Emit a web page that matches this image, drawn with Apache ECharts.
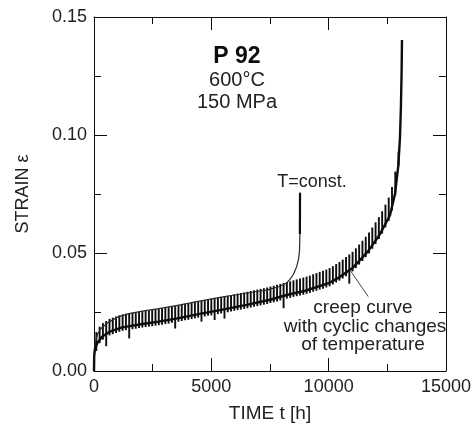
<!DOCTYPE html>
<html>
<head>
<meta charset="utf-8">
<script src="https://cdn.jsdelivr.net/npm/echarts@6/dist/echarts.min.js"></script>
<style>html,body{margin:0;padding:0;background:#fff;}#c{width:474px;height:429px;}</style>
</head>
<body>
<div id="c"></div>
<script>
// T = const. creep curve
const constT = [0, 15, 60, 150, 300, 600, 1000, 1500, 2000, 2756, 3500, 4500, 5369, 6000, 7000, 7358, 7900, 8200, 8350, 8500, 8636, 8720, 8760, 8775, 8780];
const constE = [0, 0.008, 0.012, 0.0155, 0.018, 0.0205, 0.0228, 0.0243, 0.0253, 0.0264, 0.0277, 0.0296, 0.0312, 0.0322, 0.0338, 0.0343, 0.0358, 0.0372, 0.0388, 0.041, 0.0442, 0.0475, 0.0513, 0.058, 0.0755];

// cyclic temperature creep curve (mean line)
const cycMidT = [0, 8, 40, 150, 341, 700, 1200, 2000, 2756, 3500, 4500, 5369, 6500, 7500, 8210, 9000, 10000, 10500, 11000, 11335, 11700, 12187, 12614, 12827, 12969, 13040, 13080, 13110, 13125];
const cycMidE = [0, 0.006, 0.0095, 0.012, 0.0145, 0.0168, 0.0185, 0.0198, 0.0209, 0.0222, 0.0242, 0.0258, 0.028, 0.0302, 0.0322, 0.034, 0.0372, 0.040, 0.0435, 0.047, 0.051, 0.058, 0.066, 0.075, 0.087, 0.099, 0.112, 0.127, 0.1403];

// temperature cycle spikes: time, lower end, upper end
const spikeT = [100, 240, 380, 520, 660, 800, 940, 1080, 1220, 1360, 1500, 1640, 1780, 1920, 2060, 2200, 2340, 2480, 2620, 2760, 2900, 3040, 3180, 3320, 3460, 3600, 3740, 3880, 4020, 4160, 4300, 4440, 4580, 4720, 4860, 5000, 5140, 5280, 5420, 5560, 5700, 5840, 5980, 6120, 6260, 6400, 6540, 6680, 6820, 6960, 7100, 7240, 7380, 7520, 7660, 7800, 7940, 8080, 8220, 8360, 8500, 8640, 8780, 8920, 9060, 9200, 9340, 9480, 9620, 9760, 9900, 10040, 10180, 10320, 10460, 10600, 10740, 10880, 11020, 11160, 11300, 11440, 11580, 11720, 11860, 12000, 12140, 12280, 12420, 12560, 12700, 12840, 12980];
const spikeLo = [0.0085, 0.0118, 0.0133, 0.0105, 0.0151, 0.0156, 0.0161, 0.0166, 0.017, 0.0173, 0.0138, 0.0177, 0.0179, 0.0182, 0.0184, 0.0186, 0.0188, 0.019, 0.0192, 0.0194, 0.0196, 0.0199, 0.0201, 0.0204, 0.018, 0.0209, 0.0212, 0.0215, 0.0217, 0.022, 0.0223, 0.0226, 0.0209, 0.0231, 0.0234, 0.0236, 0.0216, 0.0241, 0.0244, 0.0222, 0.0249, 0.0252, 0.0255, 0.0258, 0.026, 0.0263, 0.0266, 0.0269, 0.0272, 0.0275, 0.0278, 0.0281, 0.0284, 0.0288, 0.0291, 0.0295, 0.0299, 0.0266, 0.0307, 0.031, 0.0314, 0.0317, 0.032, 0.0323, 0.0327, 0.0331, 0.0336, 0.034, 0.0345, 0.0349, 0.0354, 0.0359, 0.0367, 0.0375, 0.0383, 0.0392, 0.0402, 0.037, 0.0422, 0.0436, 0.0451, 0.0466, 0.0482, 0.0498, 0.0518, 0.0538, 0.0559, 0.0582, 0.0609, 0.0636, 0.068, 0.0745, 0.087];
const spikeHi = [0.0165, 0.0188, 0.0203, 0.0212, 0.0221, 0.0226, 0.0231, 0.0236, 0.024, 0.0243, 0.0245, 0.0247, 0.0249, 0.0252, 0.0254, 0.0256, 0.0258, 0.026, 0.0262, 0.0264, 0.0266, 0.0269, 0.0271, 0.0274, 0.0276, 0.0279, 0.0282, 0.0285, 0.0287, 0.029, 0.0293, 0.0296, 0.0298, 0.0301, 0.0304, 0.0306, 0.0309, 0.0311, 0.0314, 0.0317, 0.0319, 0.0322, 0.0325, 0.0328, 0.033, 0.0333, 0.0336, 0.0339, 0.0342, 0.0345, 0.0348, 0.0351, 0.0354, 0.0358, 0.0361, 0.0365, 0.0369, 0.0373, 0.0377, 0.038, 0.0384, 0.0388, 0.0392, 0.0396, 0.04, 0.0404, 0.041, 0.0415, 0.042, 0.0425, 0.043, 0.0436, 0.0444, 0.0453, 0.0462, 0.0472, 0.0483, 0.0494, 0.0505, 0.052, 0.0536, 0.0552, 0.0569, 0.0587, 0.0608, 0.063, 0.0652, 0.0677, 0.0705, 0.0735, 0.078, 0.0845, 0.093];

// leader line for the annotation (data coordinates)
const leaderT = [10909, 11689];
const leaderE = [0.0428, 0.0315];

// axis ticks
const xTicks = [0, 5000, 10000, 15000];
const yTicks = [0, 0.05, 0.10, 0.15];

const INK = '#0d0d0d';
const TXT = '#222';
const FONT = '"Liberation Sans", Arial, sans-serif';

const chart = echarts.init(document.getElementById('c'), null, {renderer: 'canvas'});

const axisCommon = {
  axisLine: {show: true, onZero: false, lineStyle: {color: INK, width: 1}},
  axisTick: {show: true, inside: true, length: 13, lineStyle: {color: INK, width: 1}},
  minorTick: {show: true, splitNumber: 2, length: 7, lineStyle: {color: INK, width: 1}},
  splitLine: {show: false},
  minorSplitLine: {show: false}
};

function txt(text, x, y, font, fill) {
  return {type: 'text', x: x, y: y, z: 100,
          style: {text: text, fill: fill || TXT, font: font, textAlign: 'center', textVerticalAlign: 'middle', verticalAlign: 'middle', align: 'center'}};
}

const constPts = constT.map((t, i) => [t, constE[i]]);

const option = {
  backgroundColor: '#fff',
  animation: false,
  grid: {left: 94, right: 28, top: 17, bottom: 58, containLabel: false},
  xAxis: [
    Object.assign({
      type: 'value', min: xTicks[0], max: xTicks[xTicks.length - 1], interval: 5000, position: 'bottom',
      axisLabel: {color: TXT, fontSize: 18, fontFamily: FONT, margin: 7, formatter: v => String(v)},
      name: 'TIME t [h]', nameLocation: 'middle', nameGap: 33,
      nameTextStyle: {color: TXT, fontSize: 19, fontFamily: FONT}
    }, axisCommon),
    Object.assign({
      type: 'value', min: xTicks[0], max: xTicks[xTicks.length - 1], interval: 5000, position: 'top',
      axisLabel: {show: false}
    }, axisCommon)
  ],
  yAxis: [
    Object.assign({
      type: 'value', min: yTicks[0], max: yTicks[yTicks.length - 1], interval: 0.05, position: 'left',
      axisLabel: {color: TXT, fontSize: 18, fontFamily: FONT, margin: 7, formatter: v => v.toFixed(2)},
      name: 'STRAIN ε', nameLocation: 'middle', nameGap: 62, nameRotate: 90,
      nameTextStyle: {color: TXT, fontSize: 18, fontFamily: FONT}
    }, axisCommon),
    Object.assign({
      type: 'value', min: yTicks[0], max: yTicks[yTicks.length - 1], interval: 0.05, position: 'right',
      axisLabel: {show: false}
    }, axisCommon)
  ],
  series: [
    {
      type: 'line', name: 'T=const.', xAxisIndex: 0, yAxisIndex: 0,
      data: constPts,
      showSymbol: false, smooth: false,
      lineStyle: {color: '#2a2a2a', width: 1.2}
    },
    {
      type: 'line', name: 'T=const. rupture', xAxisIndex: 0, yAxisIndex: 0,
      data: constPts.slice(constPts.length - 2),
      showSymbol: false, smooth: false,
      lineStyle: {color: INK, width: 2.2}
    },
    {
      type: 'line', name: 'cyclic', xAxisIndex: 0, yAxisIndex: 0,
      data: cycMidT.map((t, i) => [t, cycMidE[i]]),
      showSymbol: false, smooth: false,
      lineStyle: {color: INK, width: 2.4}
    },
    {
      type: 'custom', name: 'spikes', xAxisIndex: 0, yAxisIndex: 0,
      data: spikeT.map((t, i) => [t, spikeLo[i], spikeHi[i]]),
      encode: {x: 0, y: [1, 2]},
      renderItem: function (params, api) {
        const p1 = api.coord([api.value(0), api.value(1)]);
        const p2 = api.coord([api.value(0), api.value(2)]);
        return {type: 'line', shape: {x1: p1[0], y1: p1[1], x2: p2[0], y2: p2[1]},
                style: {stroke: INK, lineWidth: 1.9}};
      }
    },
    {
      type: 'line', name: 'leader', xAxisIndex: 0, yAxisIndex: 0,
      data: leaderT.map((t, i) => [t, leaderE[i]]),
      showSymbol: false, lineStyle: {color: '#333', width: 0.9}
    }
  ],
  graphic: [
    txt('P 92', 237, 57, 'bold 23px ' + FONT, INK),
    txt('600°C', 237, 80, '20px ' + FONT),
    txt('150 MPa', 237, 102, '20px ' + FONT),
    txt('T=const.', 312, 182, '18px ' + FONT),
    txt('creep curve', 363, 308, '19px ' + FONT),
    txt('with cyclic changes', 365, 327, '19px ' + FONT),
    txt('of temperature', 363, 345, '19px ' + FONT)
  ]
};
chart.setOption(option);
</script>
</body>
</html>
